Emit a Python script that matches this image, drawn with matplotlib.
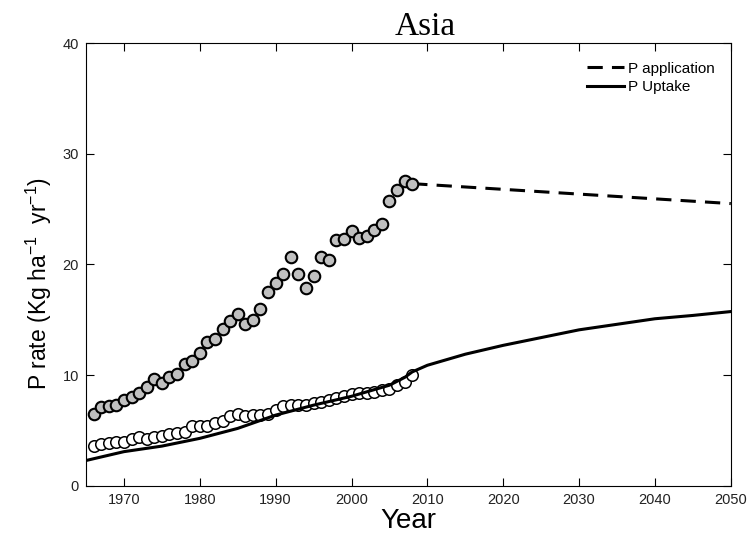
"""
Phosphorus application and uptake rates for Asia, observed and projected.
"""
import matplotlib
matplotlib.use("Agg")
import numpy as np
import matplotlib.pyplot as plt

plt.rcParams['font.family'] = ['Liberation Sans', 'DejaVu Sans']
plt.rcParams['mathtext.default'] = 'regular'

# observed years
obs_years = list(range(1966, 2009))

# observed P application (grey dots)
p_applied = [6.5, 7.1, 7.2, 7.3, 7.8, 8.0, 8.4, 8.9, 9.7, 9.3,
             9.8, 10.1, 11.0, 11.3, 12.0, 13.0, 13.3, 14.2, 14.9, 15.5,
             14.6, 15.0, 16.0, 17.5, 18.3, 19.1, 20.7, 19.1, 17.9, 19.0,
             20.7, 20.4, 22.2, 22.3, 23.0, 22.4, 22.6, 23.1, 23.7, 25.7,
             26.7, 27.5, 27.3]

# observed P uptake (open dots)
p_uptake_obs = [3.6, 3.8, 3.9, 4.0, 4.0, 4.2, 4.4, 4.2, 4.4, 4.5,
                4.7, 4.8, 4.9, 5.4, 5.4, 5.4, 5.7, 5.9, 6.3, 6.5,
                6.3, 6.4, 6.4, 6.5, 6.9, 7.2, 7.3, 7.3, 7.3, 7.5,
                7.6, 7.8, 7.9, 8.1, 8.3, 8.4, 8.4, 8.5, 8.7, 8.8,
                9.1, 9.4, 10.0]

# projected application after the last observation
proj_years = [2008, 2050]
proj_applied = [27.3, 25.5]

# modelled uptake curve
model_years = [1965, 1970, 1975, 1980, 1985, 1990, 1995, 2000, 2003,
               2005, 2007, 2008, 2010, 2015, 2020, 2025, 2030, 2035,
               2040, 2045, 2050]
model_uptake = [2.3, 3.1, 3.6, 4.3, 5.2, 6.4, 7.3, 8.1, 8.7,
                9.1, 9.8, 10.3, 10.9, 11.9, 12.7, 13.4, 14.1, 14.6,
                15.1, 15.4, 15.75]

x_ticks = list(range(1970, 2051, 10))
y_ticks = [0, 10, 20, 30, 40]


def main():
    fig = plt.figure(figsize=(7.48, 5.41), dpi=100)
    ax = fig.add_axes([0.115, 0.1017, 0.862, 0.8188])

    ax.plot(proj_years, proj_applied, color='black', lw=2.2,
            dashes=(5, 3), label='P application', zorder=2)
    ax.plot(model_years, model_uptake, color='black', lw=2.2,
            label='P Uptake', zorder=2)
    ax.plot(obs_years, p_applied, 'o', ms=8.3, mfc='#c0c0c0', mec='black',
            mew=1.5, zorder=3)
    ax.plot(obs_years, p_uptake_obs, 'o', ms=8.3, mfc='white', mec='black',
            mew=1.1, zorder=1)

    ax.set_xlim(1965, 2050)
    ax.set_ylim(0, 40)
    ax.set_xticks(x_ticks)
    ax.set_yticks(y_ticks)
    ax.tick_params(direction='in', length=6, width=0.8, labelsize=10.5,
                   top=True, right=True, colors='black', labelcolor='#222222',
                   pad=5)
    for side in ax.spines.values():
        side.set_linewidth(0.8)

    ax.set_xlabel('Year', fontsize=20, labelpad=1)
    ax.set_ylabel('P rate (Kg ha$^{-1}$  yr$^{-1}$)', fontsize=16.5)
    ax.yaxis.set_label_coords(-0.05, 0.458)
    ax.set_title('Asia', fontsize=24, family=['Liberation Serif'],
                 x=0.526, pad=6)

    ax.legend(loc='upper right', bbox_to_anchor=(0.975, 0.958), frameon=False,
              fontsize=11, handlelength=2.4, handletextpad=0.25,
              borderpad=0, borderaxespad=0, labelspacing=0.3)

    fig.savefig('out.png', dpi=100)


if __name__ == "__main__":
    main()
